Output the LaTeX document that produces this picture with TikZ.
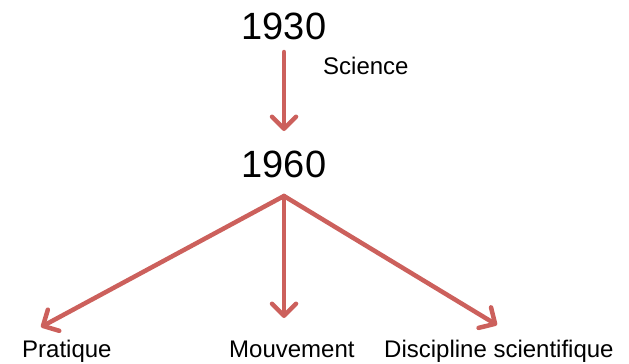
\documentclass[tikz,border=0pt]{standalone}
\usepackage{fontspec}
\setmainfont{Liberation Sans}
\usetikzlibrary{arrows.meta}
\definecolor{arrowred}{RGB}{204,96,92}
\begin{document}
\begin{tikzpicture}[x=1pt,y=-1pt,
  link/.style={draw=arrowred,line width=4.5pt,line cap=round,
    -{Straight Barb[length=12pt,width=24pt,line cap=round,line join=round]}},
  big/.style={font=\fontsize{38}{40}\selectfont,inner sep=0pt},
  lbl/.style={font=\fontsize{24}{26}\selectfont,inner sep=0pt,anchor=base west}]
\useasboundingbox (0,0) rectangle (629,364);
\node[big] (y1930) at (284,26) {1930};
\node[big] (y1960) at (284,164) {1960};
\node[lbl] (sci) at (323,74) {Science};
\coordinate (a1) at (284,52);
\coordinate (t1) at (284,131);
\coordinate (o) at (284,196);
\node[lbl] (prat) at (22,357) {Pratique};
\node[lbl] (mouv) at (229,357) {Mouvement};
\node[lbl] (disc) at (384,357) {Discipline scientifique};
\coordinate (tl) at (41,327);
\coordinate (tm) at (284,318);
\coordinate (tr) at (497,325);
\draw[link] (a1) -- (t1);
\draw[link] (o) -- (tl);
\draw[link] (o) -- (tm);
\draw[link] (o) -- (tr);
\end{tikzpicture}
\end{document}
